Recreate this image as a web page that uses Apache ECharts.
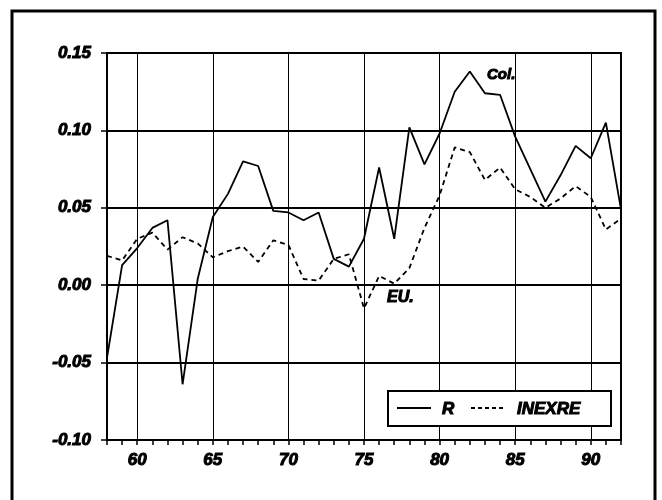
<!DOCTYPE html>
<html>
<head>
<meta charset="utf-8">
<script src="https://cdn.jsdelivr.net/npm/echarts@6/dist/echarts.min.js"></script>
<style>html,body{margin:0;padding:0;background:#fff}#c{width:662px;height:500px}</style>
</head>
<body>
<div id="c"></div>
<script>
var years = ['58','59','60','61','62','63','64','65','66','67','68','69','70','71','72','73','74','75','76','77','78','79','80','81','82','83','84','85','86','87','88','89','90','91','92'];
var seriesR = [-0.047,0.013,0.024,0.037,0.042,-0.064,0.004,0.044,0.059,0.080,0.077,0.048,0.047,0.042,0.047,0.017,0.012,0.030,0.076,0.030,0.102,0.078,0.098,0.125,0.138,0.124,0.123,0.096,0.075,0.054,0.071,0.090,0.082,0.105,0.049];
var seriesINEXRE = [0.019,0.016,0.030,0.034,0.023,0.031,0.027,0.018,0.022,0.025,0.015,0.029,0.026,0.004,0.003,0.017,0.020,-0.015,0.006,0.001,0.011,0.037,0.058,0.089,0.086,0.068,0.076,0.062,0.057,0.050,0.056,0.064,0.057,0.036,0.043];
var yTicks = {min: -0.10, max: 0.15, interval: 0.05};
var xLabelYears = ['60','65','70','75','80','85','90'];
var notes = [{text: 'Col.', x: 487, y: 75}, {text: 'EU.', x: 387, y: 298}];

var lblFont = {fontFamily: 'Liberation Sans, Arial, sans-serif', fontWeight: 'bold', fontStyle: 'italic', color: '#000', textBorderColor: '#000', textBorderWidth: 1};

var chart = echarts.init(document.getElementById('c'), null, {renderer: 'canvas'});
chart.setOption({
  backgroundColor: '#fff',
  animation: false,
  grid: {left: 107, right: 41, top: 53, bottom: 60, show: true, borderColor: '#000', borderWidth: 2, backgroundColor: 'transparent'},
  xAxis: {
    type: 'category', data: years, boundaryGap: false,
    axisLine: {onZero: false, lineStyle: {color: '#000', width: 2}},
    axisTick: {show: true, interval: 0, length: 5, lineStyle: {color: '#000', width: 1.5}},
    axisLabel: Object.assign({fontSize: 17, margin: 12, interval: function (i, v) { return xLabelYears.indexOf(v) >= 0; }}, lblFont),
    splitLine: {show: true, interval: function (i, v) { return xLabelYears.indexOf(v) >= 0; }, lineStyle: {color: '#000', width: 1}}
  },
  yAxis: {
    type: 'value', min: yTicks.min, max: yTicks.max, interval: yTicks.interval,
    axisLine: {show: true, onZero: false, lineStyle: {color: '#000', width: 2}},
    axisTick: {show: true, length: 6, lineStyle: {color: '#000', width: 1.5}},
    axisLabel: Object.assign({fontSize: 17, margin: 16, formatter: function (v) { return v.toFixed(2); }}, lblFont),
    splitLine: {show: true, lineStyle: {color: '#000', width: 2}}
  },
  series: [
    {name: 'R', type: 'line', data: seriesR, showSymbol: false, lineStyle: {color: '#000', width: 1.8, type: 'solid'}, z: 5},
    {name: 'INEXRE', type: 'line', data: seriesINEXRE, showSymbol: false, lineStyle: {color: '#000', width: 1.8, type: [5, 4]}, z: 4}
  ],
  graphic: [
    {type: 'rect', shape: {x: 12, y: 11, width: 643, height: 520}, style: {fill: 'none', stroke: '#000', lineWidth: 3}, z: 100},
    {type: 'rect', shape: {x: 388, y: 391, width: 223, height: 35}, style: {fill: '#fff', stroke: '#000', lineWidth: 2}, z: 100},
    {type: 'line', shape: {x1: 397, y1: 408, x2: 431, y2: 408}, style: {stroke: '#000', lineWidth: 1.8}, z: 101},
    {type: 'text', style: {x: 442, y: 409, text: 'R', font: 'italic bold 17px Liberation Sans', fill: '#000', stroke: '#000', lineWidth: 1, verticalAlign: 'middle'}, z: 101},
    {type: 'line', shape: {x1: 471, y1: 408, x2: 506, y2: 408}, style: {stroke: '#000', lineWidth: 1.8, lineDash: [4, 3]}, z: 101},
    {type: 'text', style: {x: 517, y: 409, text: 'INEXRE', font: 'italic bold 17px Liberation Sans', fill: '#000', stroke: '#000', lineWidth: 1, verticalAlign: 'middle'}, z: 101},
    {type: 'text', style: {x: notes[0].x, y: notes[0].y, text: notes[0].text, font: 'italic bold 15px Liberation Sans', fill: '#000', stroke: '#000', lineWidth: 1, verticalAlign: 'middle'}, z: 101},
    {type: 'text', style: {x: notes[1].x, y: notes[1].y, text: notes[1].text, font: 'italic bold 16px Liberation Sans', fill: '#000', stroke: '#000', lineWidth: 1, verticalAlign: 'middle'}, z: 101}
  ]
});
</script>
</body>
</html>
